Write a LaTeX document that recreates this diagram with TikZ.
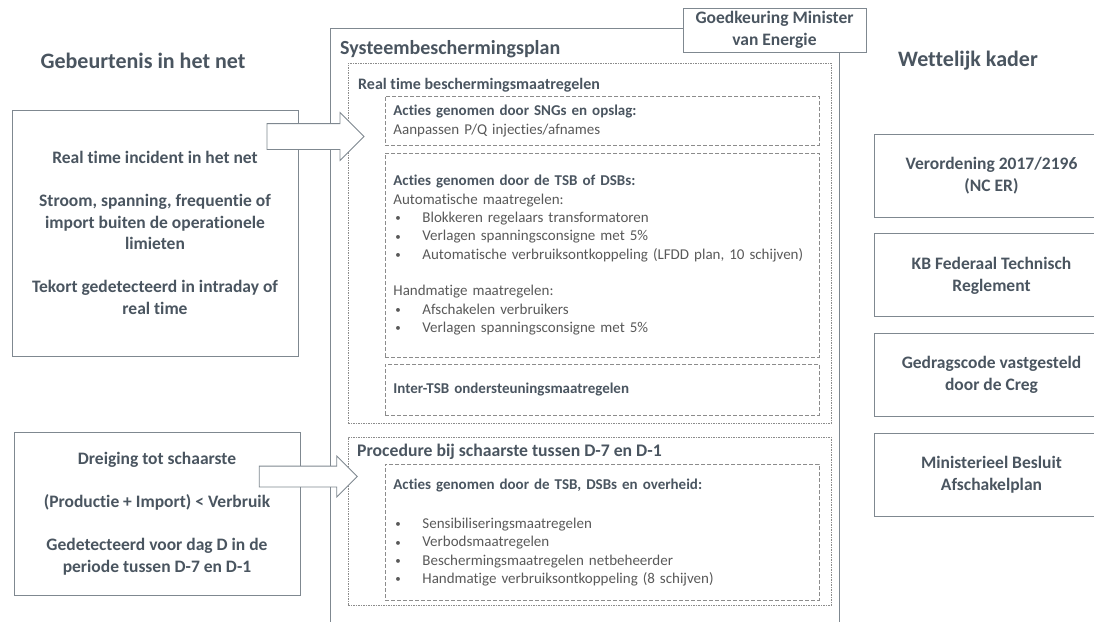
\documentclass[tikz,border=0pt]{standalone}
\usepackage{fontspec}
\setmainfont{Carlito}[Ligatures=NoCommon]
\usetikzlibrary{positioning,shapes.arrows}
\definecolor{darktext}{HTML}{4A5560}
\definecolor{bodytext}{HTML}{595959}
\definecolor{boxgray}{HTML}{7F8890}
\definecolor{dashgray}{HTML}{8C8C8C}
\newcommand{\bitem}[1]{\makebox[29pt][l]{\hspace{2pt}\raisebox{0.8pt}{\fontsize{11}{11}\selectfont\textbullet}}#1}

\begin{document}
\begin{tikzpicture}[x=1pt,y=-1pt,node distance=16pt,
  title/.style={font=\bfseries\fontsize{22}{26}\selectfont,text=darktext,inner sep=0pt,anchor=base},
  heading/.style={font=\bfseries\fontsize{16}{19}\selectfont,text=darktext,anchor=base west,inner sep=0pt},
  eventbox/.style={draw=boxgray,line width=0.9pt,fill=white,align=center,text=darktext,font=\bfseries\fontsize{17.5}{21.5}\selectfont,minimum width=286pt,inner sep=0pt},
  lawbox/.style={draw=boxgray,line width=0.9pt,align=center,text=darktext,font=\bfseries\fontsize{17.5}{22}\selectfont,minimum width=235pt,minimum height=83pt,inner sep=0pt},
  groupbox/.style={draw=dashgray,dash pattern=on 1.5pt off 1pt,line width=0.8pt,anchor=north west,minimum width=483pt,inner sep=0pt},
  actbox/.style={draw=dashgray,dash pattern=on 4pt off 2pt,line width=0.8pt,text width=418pt,inner xsep=8pt,inner ysep=0pt,align=left,text=bodytext,font=\fontsize{15}{18.3}\selectfont},
  blockarrow/.style={single arrow,draw=boxgray,fill=white,line width=0.8pt,inner xsep=0pt,inner ysep=12.5pt,single arrow head extend=11pt,minimum height=97pt}]
    \useasboundingbox (0,0) rectangle (1094,621);
    \clip (0,0) rectangle (1094,621);

    % column titles
    \node[title] (eventtitle) at (143,68) {Gebeurtenis in het net};
    \node[title] (lawtitle) at (968,66) {Wettelijk kader};

    % events on the left
    \node[eventbox,minimum height=246pt] (incident) at (155,233) {Real time incident in het net\\[21.5pt]
        Stroom, spanning, frequentie of\\ import buiten de operationele\\ limieten\\[21.5pt]
        Tekort gedetecteerd in intraday of\\ real time};
    \node[eventbox,minimum height=163pt] (threat) at (157,513.5) {Dreiging tot schaarste\\[21.5pt]
        (Productie + Import) < Verbruik\\[21.5pt]
        Gedetecteerd voor dag D in de\\ periode tussen D-7 en D-1};

    % the plan
    \node[draw=boxgray,line width=0.9pt,anchor=north west,minimum width=509pt,minimum height=640pt,inner sep=0pt] (plan) at (330,28) {};
    \node[heading,font=\bfseries\fontsize{20}{24}\selectfont] (plantitle) at (340,54) {Systeembeschermingsplan};
    \node[draw=boxgray,line width=0.9pt,fill=white,align=center,text=darktext,font=\bfseries\fontsize{17.5}{22}\selectfont,minimum width=183pt,minimum height=44pt,inner sep=0pt] (approval) at (774.5,30) {Goedkeuring Minister\\van Energie};

    \node[groupbox,minimum height=360pt] (realtime) at (348,63) {};
    \node[heading] (realtimetitle) at (358,89) {Real time beschermingsmaatregelen};
    \node[actbox,minimum height=49pt,anchor=north west] (sng) at (385,96) {\textcolor{darktext}{\textbf{Acties genomen door SNGs en opslag:}}\\
        Aanpassen P/Q injecties/afnames};
    \node[actbox,minimum height=204pt,below=7pt of sng] (tsb) {\textcolor{darktext}{\textbf{Acties genomen door de TSB of DSBs:}}\\
        Automatische maatregelen:\\
        \bitem{Blokkeren regelaars transformatoren}\\
        \bitem{Verlagen spanningsconsigne met 5\%}\\
        \bitem{Automatische verbruiksontkoppeling (LFDD plan, 10 schijven)}\\[18.3pt]
        Handmatige maatregelen:\\
        \bitem{Afschakelen verbruikers}\\
        \bitem{Verlagen spanningsconsigne met 5\%}};
    \node[actbox,minimum height=51pt,below=6pt of tsb] (inter) {\textcolor{darktext}{\textbf{Inter-TSB ondersteuningsmaatregelen}}};

    \node[groupbox,minimum height=168pt] (scarcity) at (348,437) {};
    \node[heading,font=\bfseries\fontsize{17.7}{21}\selectfont] (scarcitytitle) at (357,456) {Procedure bij schaarste tussen D-7 en D-1};
    \node[actbox,minimum height=136pt,anchor=north west] (govacts) at (385,464) {\textcolor{darktext}{\textbf{Acties genomen door de TSB, DSBs en overheid:}}\\[21pt]
        \bitem{Sensibiliseringsmaatregelen}\\
        \bitem{Verbodsmaatregelen}\\
        \bitem{Beschermingsmaatregelen netbeheerder}\\
        \bitem{Handmatige verbruiksontkoppeling (8 schijven)}};

    % legal framework
    \node[lawbox] (ncer) at (991.5,175.5) {Verordening 2017/2196\\(NC ER)};
    \node[lawbox,below=of ncer] (fedtech) {KB Federaal Technisch\\Reglement};
    \node[lawbox,below=of fedtech] (creg) {Gedragscode vastgesteld\\door de Creg};
    \node[lawbox,below=of creg] (afschakel) {Ministerieel Besluit\\Afschakelplan};

    % block arrows into the plan
    \node[blockarrow] (arrowrt) at (309,136.5) {};
    \node[blockarrow,inner ysep=10pt,single arrow head extend=10pt,minimum height=98pt] (arrowsc) at (303,476.5) {};
\end{tikzpicture}
\end{document}
